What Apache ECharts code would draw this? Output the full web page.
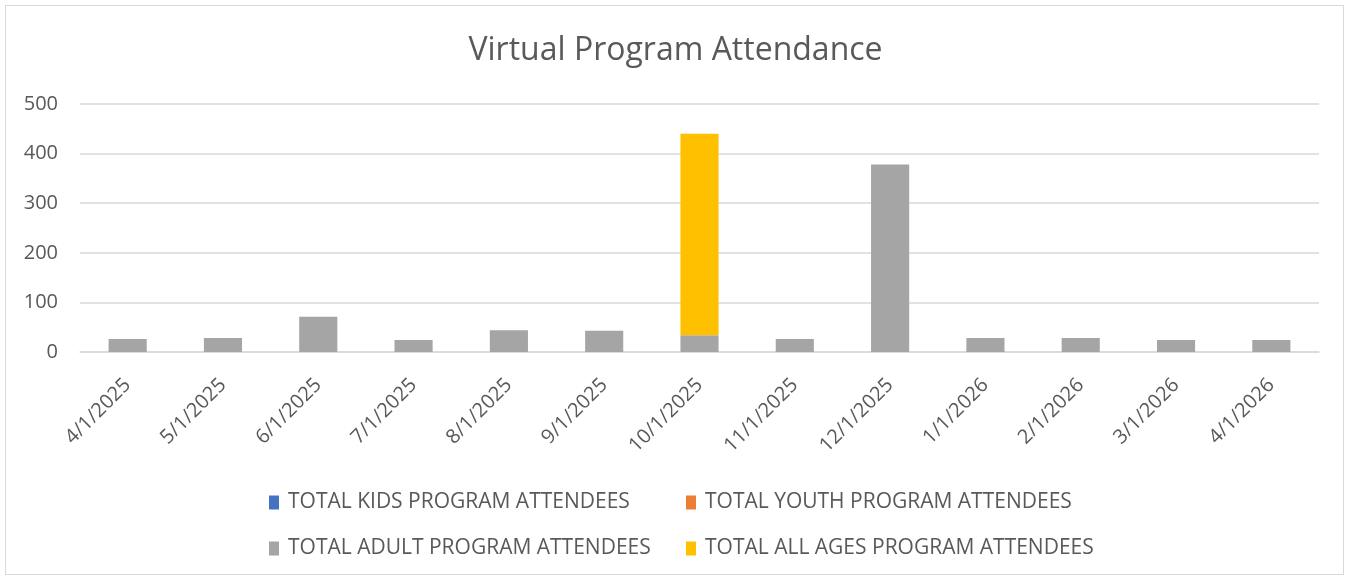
<!DOCTYPE html>
<html>
<head>
<meta charset="utf-8">
<script src="https://cdn.jsdelivr.net/npm/echarts@6/dist/echarts.min.js"></script>
<style>
  html, body { margin: 0; padding: 0; background: #fff; }
  .chart-box {
    position: absolute;
    left: 5px; top: 5px;
    width: 1339px; height: 570px;
    border: 1px solid #d9d9d9;
    box-sizing: border-box;
  }
  #main { position: absolute; left: 0; top: 0; width: 1351px; height: 579px; }
</style>
</head>
<body>
<div class="chart-box"></div>
<div id="main"></div>
<script>
// categories (months)
const months = [
  "4/1/2025", "5/1/2025", "6/1/2025", "7/1/2025", "8/1/2025", "9/1/2025",
  "10/1/2025", "11/1/2025", "12/1/2025", "1/1/2026", "2/1/2026", "3/1/2026", "4/1/2026"
];
// series values
const kids = [0, 0, 0, 0, 0, 0, 0, 0, 0, 0, 0, 0, 0];
const youth = [0, 0, 0, 0, 0, 0, 0, 0, 0, 0, 0, 0, 0];
const adult = [26, 28, 71, 24, 44, 43, 34, 26, 378, 28, 28, 24, 24];
const allAges = [0, 0, 0, 0, 0, 0, 406, 0, 0, 0, 0, 0, 0];
const yTicks = { min: 0, max: 500, interval: 100 };

const names = [
  "TOTAL KIDS PROGRAM ATTENDEES",
  "TOTAL YOUTH PROGRAM ATTENDEES",
  "TOTAL ADULT PROGRAM ATTENDEES",
  "TOTAL ALL AGES PROGRAM ATTENDEES"
];
const colors = ["#4472c4", "#ed7d31", "#a5a5a5", "#ffc000"];
const seriesData = [kids, youth, adult, allAges];

const FONT = "Open Sans";
const TXT = "#595959";

// legend laid out as a 2x2 grid like Excel does
const legendPos = [
  { left: 269, top: 492 },
  { left: 686, top: 492 },
  { left: 269, top: 538 },
  { left: 686, top: 538 }
];

let myChart = echarts.init(document.getElementById("main"));

// 绘制图表
myChart.setOption({
  animation: false,
  title: {
    text: "Virtual Program Attendance",
    left: "center",
    top: 30,
    textStyle: {
      color: TXT,
      fontSize: 32,
      fontWeight: "normal",
      fontFamily: FONT
    }
  },
  legend: names.map((n, i) => ({
    data: [n],
    left: legendPos[i].left,
    top: legendPos[i].top,
    padding: 0,
    itemWidth: 10,
    itemHeight: 14,
    icon: "rect",
    textStyle: {
      color: TXT,
      fontSize: 21,
      fontFamily: FONT,
      padding: [0, 0, 0, 4]
    }
  })),
  grid: {
    left: 80,
    right: 32,
    top: 104,
    bottom: 227
  },
  xAxis: {
    type: "category",
    data: months,
    axisLine: { lineStyle: { color: "#d9d9d9", width: 1.5 } },
    axisTick: { length: 7, lineStyle: { color: "#d9d9d9", width: 1.5 } },
    axisLabel: {
      rotate: 45,
      color: TXT,
      fontSize: 20,
      fontFamily: FONT,
      margin: 30,
      interval: 0
    }
  },
  yAxis: {
    type: "value",
    min: yTicks.min,
    max: yTicks.max,
    interval: yTicks.interval,
    axisLine: { show: false },
    axisTick: { show: false },
    splitLine: { lineStyle: { color: "#d9d9d9", width: 1.5 } },
    axisLabel: {
      color: TXT,
      fontSize: 20,
      fontFamily: FONT,
      margin: 22
    }
  },
  series: names.map((n, i) => ({
    name: n,
    type: "bar",
    stack: "total",
    barWidth: "40%",
    data: seriesData[i],
    itemStyle: { color: colors[i] }
  }))
});
</script>
</body>
</html>
